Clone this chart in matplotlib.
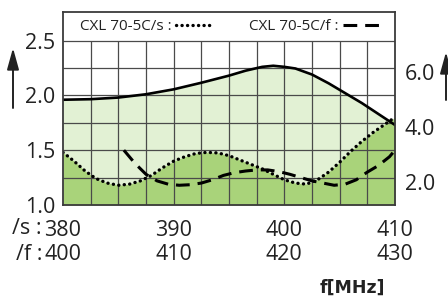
import matplotlib
matplotlib.use("Agg")
import matplotlib.pyplot as plt
import numpy as np

plt.rcParams['font.family'] = ['Open Sans', 'DejaVu Sans']

# /s antenna (CXL 70-5C/s), frequency in MHz on the /s scale
freq_s = [380.0, 382.5, 385.0, 387.5, 390.0, 392.5, 395.0, 396.5, 398.0, 399.0,
          400.0, 401.0, 402.5, 404.0, 405.5, 407.0, 408.5, 410.0]
# upper solid curve (envelope of the light green area)
vswr_top = [1.96, 1.965, 1.98, 2.01, 2.055, 2.115, 2.18, 2.225, 2.26, 2.27,
            2.26, 2.245, 2.19, 2.11, 2.02, 1.93, 1.83, 1.73]

freq_dot = [380.0, 381.0, 382.0, 383.0, 384.0, 385.0, 386.0, 387.0, 388.0, 389.0,
            390.0, 391.0, 392.0, 393.0, 394.0, 395.0, 396.0, 397.0, 398.0, 399.0,
            400.0, 401.0, 402.0, 403.0, 404.0, 405.0, 406.0, 407.0, 408.0, 409.0, 410.0]
vswr_s = [1.48, 1.40, 1.31, 1.24, 1.20, 1.18, 1.19, 1.22, 1.27, 1.34,
          1.40, 1.44, 1.47, 1.48, 1.475, 1.45, 1.41, 1.37, 1.33, 1.28,
          1.23, 1.20, 1.19, 1.23, 1.30, 1.39, 1.49, 1.58, 1.66, 1.73, 1.80]

# /f antenna (CXL 70-5C/f), frequency on the /f scale (400-430)
freq_f = [405.5, 406.5, 407.5, 408.5, 409.5, 410.5, 411.5, 412.5, 413.5, 414.5,
          415.5, 416.5, 417.5, 418.5, 419.5, 420.5, 421.5, 422.5, 423.5, 424.5,
          425.5, 426.5, 427.5, 428.5, 429.5, 430.0]
vswr_f = [1.50, 1.38, 1.28, 1.22, 1.19, 1.18, 1.185, 1.20, 1.23, 1.27,
          1.295, 1.31, 1.32, 1.32, 1.305, 1.28, 1.25, 1.22, 1.20, 1.18,
          1.19, 1.23, 1.30, 1.36, 1.44, 1.50]

s_ticks = [380, 390, 400, 410]
f_ticks = [400, 410, 420, 430]
left_ticks = [1.0, 1.5, 2.0, 2.5]
right_ticks = [2.0, 4.0, 6.0]

light_green = '#e2f1d4'
dark_green = '#a9d37a'
grid_col = '#4a4a4a'
txt_col = '#222222'
fs = 15.5

fig = plt.figure(figsize=(4.48, 3.04), dpi=100)
ax = fig.add_axes([63 / 448, 99 / 304, 332 / 448, 193.3 / 304])
ax.set_xlim(380, 410)
ax.set_ylim(1.0, 2.763)

# fills
ax.fill_between(freq_s, 1.0, vswr_top, color=light_green, lw=0, zorder=1)
ax.fill_between(freq_dot, 1.0, vswr_s, color=dark_green, lw=0, zorder=1.5)

# grid (only below the legend band)
grid_x = np.arange(382.5, 410, 2.5)
grid_y = np.arange(1.25, 2.51, 0.25)
ax.vlines(grid_x, 1.0, 2.5, color=grid_col, lw=0.9, zorder=2)
ax.hlines(grid_y, 380, 410, color=grid_col, lw=0.9, zorder=2)

ax.plot(freq_s, vswr_top, color='black', lw=1.9, zorder=4, solid_capstyle='round')
l_s, = ax.plot(freq_dot, vswr_s, color='black', lw=2.4, ls=(0, (0.05, 1.6)),
               dash_capstyle='round', zorder=4, label='CXL 70-5C/s :')

# /f curve on its own x scale
axf = ax.twiny()
axf.set_xlim(400, 430)
axf.set_ylim(1.0, 2.763)
l_f, = axf.plot(freq_f, vswr_f, color='black', lw=2.2, ls=(0, (4.5, 2.6)),
                zorder=4, label='CXL 70-5C/f :')
axf.set_xticks([])
axf.axis('off')

for sp in ax.spines.values():
    sp.set_color('#3a3a3a')
    sp.set_linewidth(1.3)
    sp.set_zorder(5)

ax.set_yticks(left_ticks)
ax.set_yticklabels(['%.1f' % v for v in left_ticks])
ax.tick_params(axis='y', length=0, pad=5.5, labelsize=fs, labelcolor=txt_col)
ax.set_xticks(s_ticks)
ax.set_xticklabels(['%d\n%d' % (a, b) for a, b in zip(s_ticks, f_ticks)])
ax.tick_params(axis='x', length=0, pad=11, labelsize=fs, labelcolor=txt_col)
for t in ax.get_xticklabels():
    t.set_linespacing(1.15)

# right hand scale
axr = ax.twinx()
axr.set_ylim(1.16, 8.21)
axr.set_yticks(right_ticks)
axr.set_yticklabels(['%.1f' % v for v in right_ticks])
axr.tick_params(axis='y', length=0, pad=7, labelsize=fs, labelcolor=txt_col)
for sp in axr.spines.values():
    sp.set_visible(False)

fig.text(42 / 448, 1 - 229 / 304, '/s :', ha='right', va='center', fontsize=fs, color=txt_col)
fig.text(42 / 448, 1 - 254 / 304, '/f :', ha='right', va='center', fontsize=fs, color=txt_col)

leg = ax.legend(handles=[l_s, l_f], ncol=2, markerfirst=False, frameon=False,
                loc='center left', bbox_to_anchor=(0.05, 0.921), borderpad=0,
                borderaxespad=0, handlelength=2.4, handletextpad=0.3,
                columnspacing=2.4, prop={'size': 11})
for t in leg.get_texts():
    t.set_color(txt_col)

fig.text(352 / 448, 1 - 288 / 304, 'f[MHz]', ha='center', va='center', fontsize=12.5,
         fontweight='bold', family='DejaVu Sans', color=txt_col)

# arrows
arrow = dict(arrowstyle='-|>,head_length=0.65,head_width=0.18', lw=1.4,
             color=txt_col, mutation_scale=20, shrinkA=0, shrinkB=0)
ax.annotate('', xy=(13, 256), xytext=(13, 196), xycoords='figure pixels',
            textcoords='figure pixels', arrowprops=arrow, annotation_clip=False)
ax.annotate('', xy=(446, 252), xytext=(446, 204), xycoords='figure pixels',
            textcoords='figure pixels', arrowprops=arrow, annotation_clip=False)

fig.savefig('out.png', dpi=100)
